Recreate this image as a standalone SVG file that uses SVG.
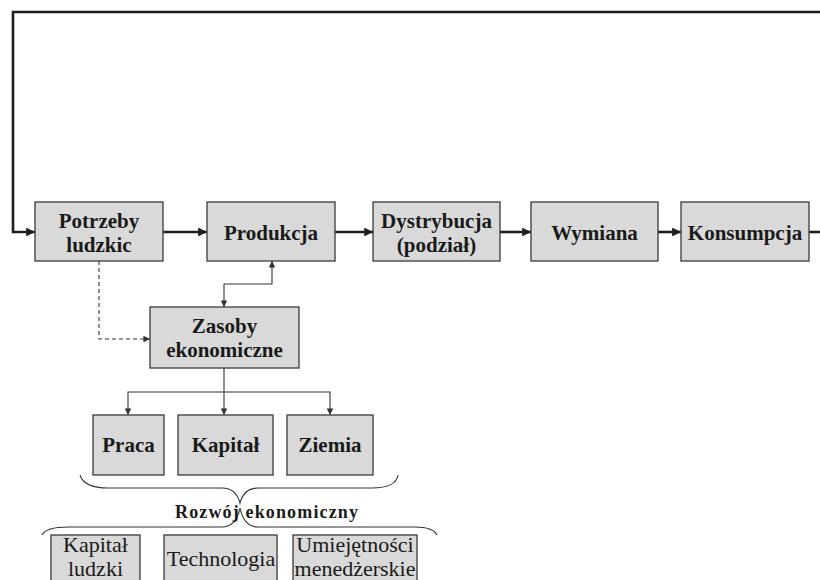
<svg xmlns="http://www.w3.org/2000/svg" width="820" height="580" viewBox="0 0 820 580">
<defs>
<style>
.box{fill:#d9d9d9;stroke:#3a3a3a;stroke-width:1.3}
.t{font-family:"Liberation Serif","Times New Roman",serif;font-weight:bold;font-size:21px;fill:#1a1a1a;text-anchor:middle}
.r{font-family:"Liberation Serif","Times New Roman",serif;font-size:22px;fill:#1a1a1a;text-anchor:middle}
.thick{fill:none;stroke:#1e1e1e;stroke-width:2.6}
.thin{fill:none;stroke:#333;stroke-width:1.1}
.dash{fill:none;stroke:#333;stroke-width:1.1;stroke-dasharray:4 3}
.brace{fill:none;stroke:#333;stroke-width:1.1}
</style>
<marker id="ah" viewBox="0 0 10 10" refX="10" refY="5" markerWidth="3.4" markerHeight="3.4" orient="auto" markerUnits="strokeWidth">
<path d="M0,0 L10,5 L0,10 z" fill="#1e1e1e"/>
</marker>
<marker id="as" viewBox="0 0 10 10" refX="10" refY="5" markerWidth="7" markerHeight="6" orient="auto" markerUnits="strokeWidth">
<path d="M0,0 L10,5 L0,10 z" fill="#333"/>
</marker>
<marker id="ass" viewBox="0 0 10 10" refX="10" refY="5" markerWidth="7" markerHeight="6" orient="auto-start-reverse" markerUnits="strokeWidth">
<path d="M0,0 L10,5 L0,10 z" fill="#333"/>
</marker>
</defs>
<rect width="820" height="580" fill="#ffffff"/>

<g id="connectors">
<path class="thick" d="M820 12 H13 V232 H35" marker-end="url(#ah)"/>
<path class="thick" d="M163 232 H207" marker-end="url(#ah)"/>
<path class="thick" d="M335 232 H373" marker-end="url(#ah)"/>
<path class="thick" d="M500 232 H531" marker-end="url(#ah)"/>
<path class="thick" d="M658 232 H681" marker-end="url(#ah)"/>
<path class="thick" d="M809 232 H820"/>
<path class="dash" d="M99 261 V339 H150" marker-end="url(#as)"/>
<path class="thin" d="M224 307 V284 H272 V261" marker-start="url(#ass)" marker-end="url(#ass)"/>
<path class="thin" d="M224 368 V415" marker-end="url(#as)"/>
<path class="thin" d="M128 415 V392 H330 V415" marker-start="url(#ass)" marker-end="url(#ass)"/>
</g>

<g id="n-potrzeby"><rect class="box" x="35" y="202" width="128" height="59"/><text class="t" x="99" y="228">Potrzeby</text><text class="t" x="99" y="252">ludzkic</text></g>
<g id="n-produkcja"><rect class="box" x="207" y="202" width="128" height="59"/><text class="t" x="271" y="240">Produkcja</text></g>
<g id="n-dystrybucja"><rect class="box" x="373" y="202" width="127" height="59"/><text class="t" x="436.5" y="228">Dystrybucja</text><text class="t" x="436.5" y="252">(podział)</text></g>
<g id="n-wymiana"><rect class="box" x="531" y="202" width="127" height="59"/><text class="t" x="594.5" y="240">Wymiana</text></g>
<g id="n-konsumpcja"><rect class="box" x="681" y="202" width="128" height="59"/><text class="t" x="745" y="240">Konsumpcja</text></g>

<g id="n-zasoby"><rect class="box" x="150" y="307" width="149" height="61"/><text class="t" x="224.5" y="333">Zasoby</text><text class="t" x="224.5" y="357">ekonomiczne</text></g>

<g id="n-praca"><rect class="box" x="93" y="415" width="71" height="60"/><text class="t" x="128.5" y="452">Praca</text></g>
<g id="n-kapital"><rect class="box" x="178" y="415" width="95" height="60"/><text class="t" x="225.5" y="452">Kapitał</text></g>
<g id="n-ziemia"><rect class="box" x="287" y="415" width="86" height="60"/><text class="t" x="330" y="452">Ziemia</text></g>

<g id="braces">
<path class="brace" d="M80 475 Q84 488 108 488 H222 Q236 488 240 503 Q244 488 258 488 H372 Q396 488 398 475"/>
<path class="brace" d="M42 535 Q46 527 68 527 H222 Q236 527 240 508 Q244 527 258 527 H415 Q433 527 437 535"/>
</g>
<g id="label-rozwoj"><text x="266.5" y="518" font-family="Liberation Serif, Times New Roman, serif" font-weight="bold" font-size="18" fill="#1a1a1a" text-anchor="middle" textLength="183" lengthAdjust="spacing">Rozwój ekonomiczny</text></g>

<g id="n-kapital-ludzki"><rect class="box" x="51" y="535" width="89" height="50"/><text class="r" x="95.5" y="552">Kapitał</text><text class="r" x="95.5" y="576">ludzki</text></g>
<g id="n-technologia"><rect class="box" x="164" y="535" width="113" height="50"/><text class="r" x="221" y="566">Technologia</text></g>
<g id="n-umiejetnosci"><rect class="box" x="293" y="535" width="124" height="50"/><text class="r" x="355" y="552">Umiejętności</text><text class="r" x="355" y="576">menedżerskie</text></g>
</svg>
